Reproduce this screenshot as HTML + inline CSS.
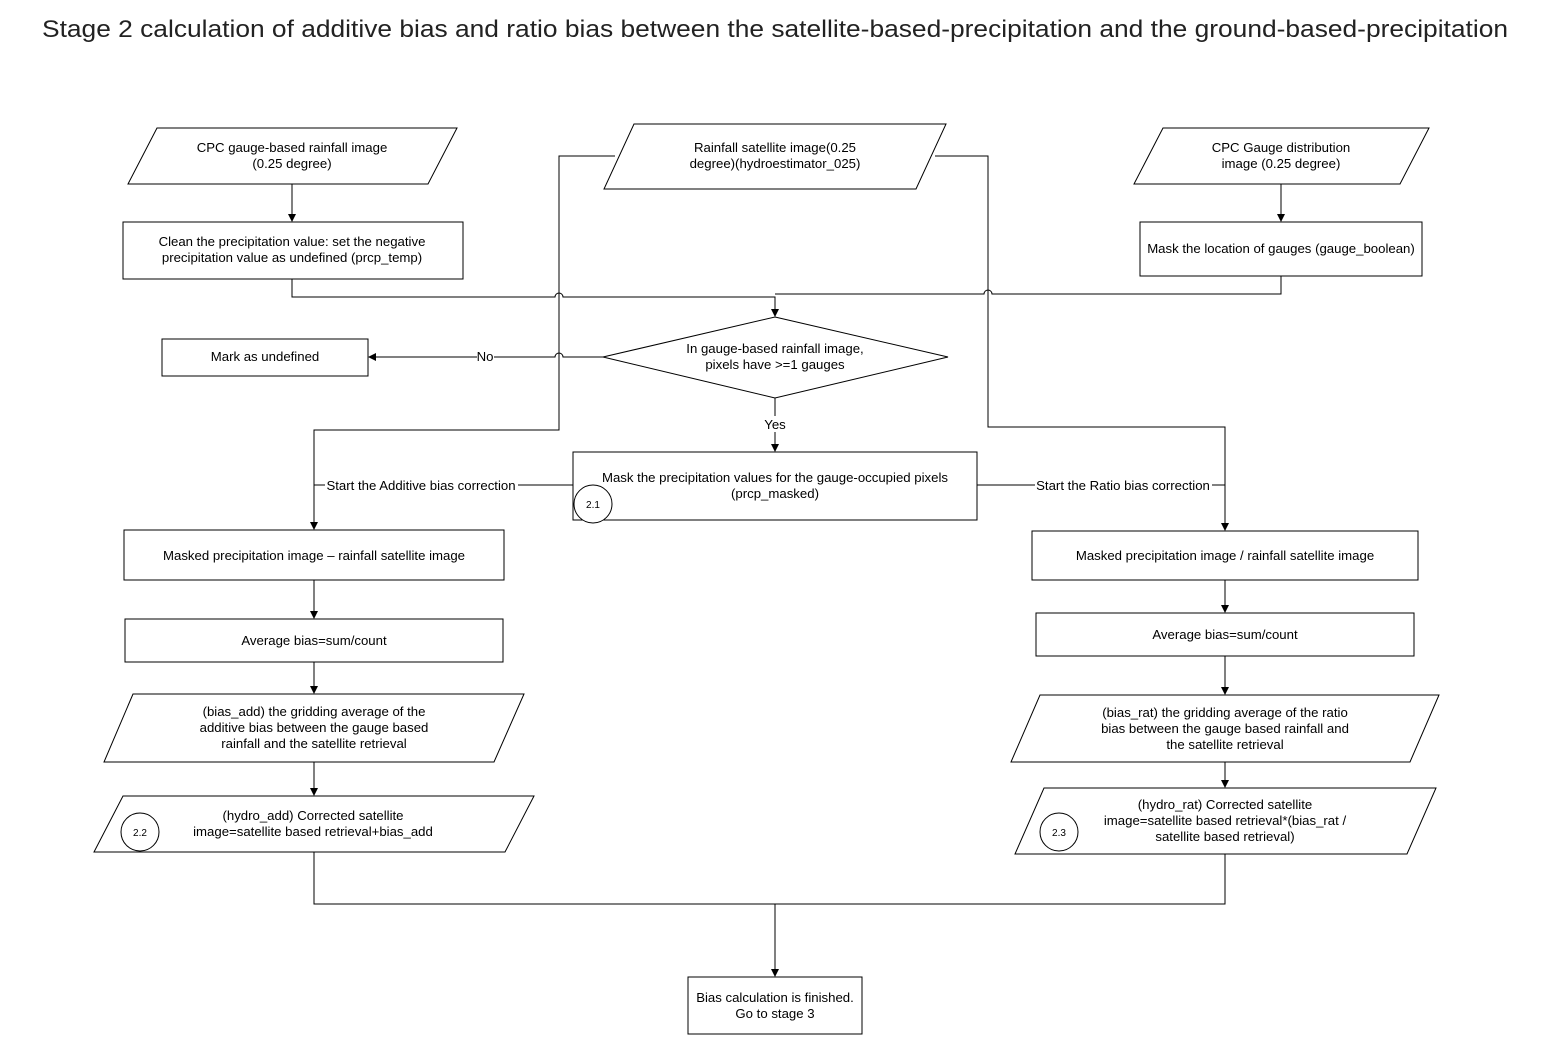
<!DOCTYPE html>
<html><head><meta charset="utf-8"><style>
html,body{margin:0;padding:0;background:#fff;}
svg text{font-family:"Liberation Sans",Arial,sans-serif;font-size:13.2px;fill:#000;text-anchor:middle;}
</style></head><body>
<svg width="1551" height="1035" viewBox="0 0 1551 1035" xmlns="http://www.w3.org/2000/svg">
<defs><marker id="a" markerWidth="8" markerHeight="8" refX="7" refY="4" orient="auto" markerUnits="userSpaceOnUse"><path d="M0,0 L8,4 L0,8 z" fill="#000"/></marker></defs>
<text x="775" y="37" style="font-size:24px;fill:#222" textLength="1466" lengthAdjust="spacingAndGlyphs">Stage 2 calculation of additive bias and ratio bias between the satellite-based-precipitation and the ground-based-precipitation</text>
<g fill="#fff" stroke="#000" stroke-width="1">
<polygon points="157,128 457,128 428,184 128,184"/>
<polygon points="634,124 946,124 916,189 604,189"/>
<polygon points="1163,128 1429,128 1400,184 1134,184"/>
<rect x="123" y="222" width="340" height="57"/>
<rect x="1140" y="222" width="282" height="54"/>
<polygon points="775,317 948,357 775,398 603,357"/>
<rect x="162" y="339" width="206" height="37"/>
<rect x="573" y="452" width="404" height="68"/>
<rect x="124" y="530" width="380" height="50"/>
<rect x="125" y="619" width="378" height="43"/>
<polygon points="133,694 524,694 494,762 104,762"/>
<polygon points="123,796 534,796 505,852 94,852"/>
<rect x="1032" y="531" width="386" height="49"/>
<rect x="1036" y="613" width="378" height="43"/>
<polygon points="1040,695 1439,695 1410,762 1011,762"/>
<polygon points="1044,788 1436,788 1407,854 1015,854"/>
<rect x="688" y="977" width="174" height="57"/>
<circle cx="593" cy="504" r="19"/>
<circle cx="140" cy="832" r="19"/>
<circle cx="1059" cy="832" r="19"/>
</g>
<g fill="none" stroke="#000" stroke-width="1">
<path d="M292,184 V221" marker-end="url(#a)"/>
<path d="M1281,184 V221" marker-end="url(#a)"/>
<path d="M292,279 V297 H555 A4,4 0 0 1 563,297 H775 V316" marker-end="url(#a)"/>
<path d="M1281,276 V294 H992 A4,4 0 0 0 984,294 H775"/>
<path d="M615,156 H559 V430 H314 V529" marker-end="url(#a)"/>
<path d="M935,156 H988 V427 H1225 V530" marker-end="url(#a)"/>
<path d="M603,357 H563 A4,4 0 0 0 555,357 H494 M477,357 H369" marker-end="url(#a)"/>
<path d="M775,398 V416 M775,432 V451" marker-end="url(#a)"/>
<path d="M573,485 H518 M325,485 H314"/>
<path d="M977,485 H1035 M1212,485 H1225"/>
<path d="M314,580 V618" marker-end="url(#a)"/>
<path d="M314,662 V693" marker-end="url(#a)"/>
<path d="M314,762 V795" marker-end="url(#a)"/>
<path d="M1225,580 V612" marker-end="url(#a)"/>
<path d="M1225,656 V694" marker-end="url(#a)"/>
<path d="M1225,762 V787" marker-end="url(#a)"/>
<path d="M314,852 V904 H1225 V854"/>
<path d="M775,904 V976" marker-end="url(#a)"/>
</g>
<text x="292" y="152">CPC gauge-based rainfall image</text>
<text x="292" y="168">(0.25 degree)</text>
<text x="775" y="152">Rainfall satellite image(0.25</text>
<text x="775" y="168">degree)(hydroestimator_025)</text>
<text x="1281" y="152">CPC Gauge distribution</text>
<text x="1281" y="168">image (0.25 degree)</text>
<text x="292" y="246">Clean the precipitation value: set the negative</text>
<text x="292" y="262">precipitation value as undefined (prcp_temp)</text>
<text x="1281" y="253">Mask the location of gauges (gauge_boolean)</text>
<text x="775" y="353">In gauge-based rainfall image,</text>
<text x="775" y="369">pixels have &gt;=1 gauges</text>
<text x="265" y="361">Mark as undefined</text>
<text x="485" y="361">No</text>
<text x="775" y="429">Yes</text>
<text x="775" y="482">Mask the precipitation values for the gauge-occupied pixels</text>
<text x="775" y="498">(prcp_masked)</text>
<text x="421" y="490">Start the Additive bias correction</text>
<text x="1123" y="490">Start the Ratio bias correction</text>
<text x="314" y="560">Masked precipitation image – rainfall satellite image</text>
<text x="314" y="645">Average bias=sum/count</text>
<text x="314" y="716">(bias_add) the gridding average of the</text>
<text x="314" y="732">additive bias between the gauge based</text>
<text x="314" y="748">rainfall and the satellite retrieval</text>
<text x="313" y="820">(hydro_add) Corrected satellite</text>
<text x="313" y="836">image=satellite based retrieval+bias_add</text>
<text x="1225" y="560">Masked precipitation image / rainfall satellite image</text>
<text x="1225" y="639">Average bias=sum/count</text>
<text x="1225" y="717">(bias_rat) the gridding average of the ratio</text>
<text x="1225" y="733">bias between the gauge based rainfall and</text>
<text x="1225" y="749">the satellite retrieval</text>
<text x="1225" y="809">(hydro_rat) Corrected satellite</text>
<text x="1225" y="825">image=satellite based retrieval*(bias_rat /</text>
<text x="1225" y="841">satellite based retrieval)</text>
<text x="775" y="1002">Bias calculation is finished.</text>
<text x="775" y="1018">Go to stage 3</text>
<text x="593" y="508" style="font-size:10px">2.1</text>
<text x="140" y="836" style="font-size:10px">2.2</text>
<text x="1059" y="836" style="font-size:10px">2.3</text>
</svg>
</body></html>
